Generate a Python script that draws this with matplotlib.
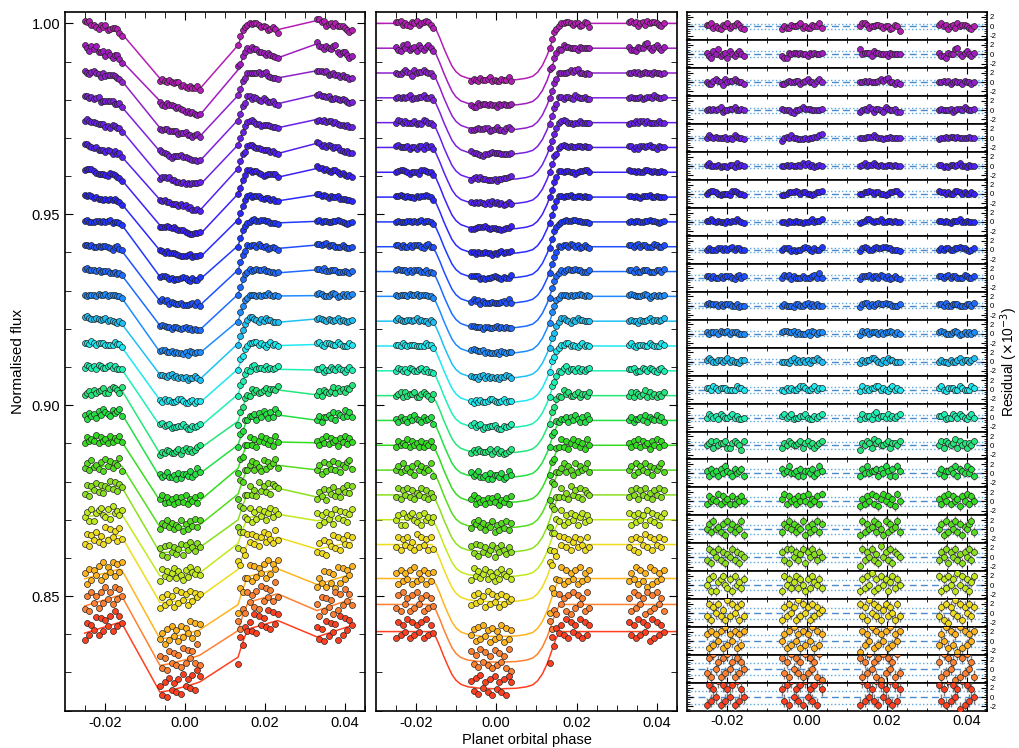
import numpy as np
import matplotlib.pyplot as plt
from matplotlib.ticker import MultipleLocator, FormatStrFormatter

plt.rcParams['font.family'] = ['Liberation Sans', 'DejaVu Sans']

# exposure phases, four HST orbits
orbit_phase = [
    [-0.0250, -0.0244, -0.0238, -0.0233, -0.0227, -0.0221, -0.0215, -0.0209, -0.0204,
     -0.0198, -0.0192, -0.0186, -0.0180, -0.0175, -0.0169, -0.0163, -0.0157],
    [-0.0062, -0.0056, -0.0050, -0.0045, -0.0039, -0.0033, -0.0027, -0.0021, -0.0016,
     -0.0010, -0.0004, 0.0002, 0.0008, 0.0013, 0.0019, 0.0025, 0.0031, 0.0037],
    [0.0133, 0.0139, 0.0145, 0.0150, 0.0156, 0.0162, 0.0168, 0.0174, 0.0179,
     0.0185, 0.0191, 0.0197, 0.0203, 0.0208, 0.0214, 0.0220, 0.0226, 0.0232],
    [0.0330, 0.0336, 0.0342, 0.0347, 0.0353, 0.0359, 0.0365, 0.0371, 0.0376,
     0.0382, 0.0388, 0.0394, 0.0400, 0.0405, 0.0411, 0.0417],
]

# transit model shape (fraction of full depth)
knot_phase = [-0.0300, -0.0160, -0.0150, -0.0140, -0.0130, -0.0120, -0.0110, -0.0100,
              -0.0088, -0.0070, -0.0040, 0.0005, 0.0050, 0.0075, 0.0091, 0.0103,
              0.0115, 0.0127, 0.0138, 0.0148, 0.0156, 0.0162, 0.0460]
knot_frac = [0.0, 0.0, 0.10, 0.26, 0.44, 0.60, 0.75, 0.85,
             0.92, 0.965, 0.99, 1.0, 0.99, 0.965, 0.93, 0.86,
             0.74, 0.56, 0.34, 0.14, 0.03, 0.0, 0.0]

# per spectral channel (top = bluest)
baseline = [1.0000, 0.9935, 0.9870, 0.9805, 0.9740, 0.9675, 0.9610, 0.9545, 0.9480,
            0.9415, 0.9350, 0.9285, 0.9220, 0.9155, 0.9090, 0.9025, 0.8960, 0.8895,
            0.8830, 0.8765, 0.8700, 0.8635, 0.8546, 0.8478, 0.8407]
depth = [0.0149, 0.0150, 0.0149, 0.0148, 0.0149, 0.0148, 0.0149, 0.0148, 0.0147,
         0.0148, 0.0148, 0.0149, 0.0149, 0.0148, 0.0149, 0.0150, 0.0149, 0.0150,
         0.0151, 0.0150, 0.0149, 0.0150, 0.0152, 0.0151, 0.0150]
sigma = [0.55, 0.60, 0.55, 0.55, 0.50, 0.50, 0.55, 0.50, 0.50, 0.55, 0.50, 0.55,
         0.60, 0.65, 0.65, 0.75, 0.85, 0.90, 1.00, 1.00, 1.05, 1.15, 1.25, 1.35, 1.40]

# systematics (x1e-3): ramp across one orbit and mean level of each orbit
ramp = [-2.5, -3.5, -2.0, -2.3, -2.1, -2.6, -2.2, -1.6, -0.5, -0.9, -0.9, 0.0, -1.0,
        -0.4, 0.0, 1.6, 1.3, 0.3, 0.9, 1.7, 1.1, 1.8, 2.7, 3.0, 3.0]
orbit_level = [
    [-1.0, -1.2, -0.4, -0.5], [-1.2, -1.0, -0.8, -0.6], [-0.6, -0.9, -0.3, -0.4],
    [-0.8, -0.8, -0.4, -0.3], [-0.6, -0.6, -0.3, -0.2], [-0.7, -0.6, -0.3, -0.2],
    [-0.5, -0.5, -0.2, -0.1], [-0.6, -0.4, -0.2, -0.2], [-0.1, -0.3, 0.0, -0.1],
    [-0.2, -0.3, 0.0, 0.0], [-0.1, -0.2, 0.1, 0.0], [0.0, -0.1, 0.1, 0.2],
    [0.2, 0.0, 0.2, 0.1], [0.3, 0.0, 0.3, 0.2], [0.8, 0.1, 0.4, 0.2],
    [1.0, 0.2, 0.7, 1.0], [1.5, 0.2, 0.8, 0.7], [1.2, 0.2, 0.7, 0.8],
    [1.0, 0.2, 0.8, 0.5], [1.6, 0.3, 0.9, 0.3], [1.3, 0.3, 0.9, 0.3],
    [1.6, 0.3, 1.0, -0.3], [1.3, 0.3, 1.2, -0.2], [1.1, 0.2, 1.3, -0.1],
    [1.1, 0.2, 1.4, 0.1],
]

# residuals, one digit per exposure: value = (digit - 4) * 0.6 * sigma
residual_codes = [
    "55634325463456532 243354456343354463 466534455434423541 5645245364554324",
    "53264734526435643 322545545443545445 745553655444354444 5332544784356435",
    "43356542645565443 334544553456443564 445454445656744343 4454534544354434",
    "45454563445564454 544432445655544445 345465355436544533 4544453455465445",
    "46545444534365443 245464433343445567 444555654434454444 3445455454444544",
    "56444534435536454 445454454656453454 456455654544554544 5534355456443544",
    "45665434443665443 334555654554434556 445565455443455664 6554544665454454",
    "55654544354556543 443544544344564556 345665455644554544 5545435556445444",
    "45444554545645544 455534344565435446 356544565566554443 4545544556554345",
    "55454454555435645 465635444544456474 355564554654534543 5545645544465445",
    "56555454555445344 454443554456454544 356645456556554445 5546445554445546",
    "54555465564555444 566556454445365455 365645554545565454 5654445653454545",
    "56544554564544355 444356454545355654 354556654354655444 4544354456455456",
    "55465455544446554 435454456654456455 364545566454356454 5643555446544465",
    "46545365445645334 564563445564335456 364553674554645456 5563446546543564",
    "45636455633565426 354654456356453456 254653756445635546 4636545736453546",
    "53645364754364563 645744536355463475 364745563647536375 4635564736547463",
    "36454736453635464 573645364647354637 253647362574635274 5364736452647364",
    "46374536274635472 365746354725364736 273645736427364573 4627364736254673",
    "37264736254736254 637274635726475364 173647352846372654 3647264735264736",
    "46272567436274536 274635736426375463 263748263746257364 7263746284736257",
    "37264735283746273 263746283746273645 736284736257364273 3627164837264736",
    "62736472836472637 462738462736482736 173648273647283647 3648273618273647",
    "37284627384627364 736284736283746281 726384627183746283 6283746182738462",
    "27364827364728364 637284637284637286 283746382746382736 7362837461827364",
]

band_colors = ["#b41eb4", "#a01cc0", "#9020cc", "#7c20dc", "#6a20ea", "#5420f4",
               "#3c20fa", "#2a28ff", "#2038ff", "#1e50ff", "#1e6cff", "#1e8cff",
               "#1ec0f4", "#1ee8f0", "#1ef0b4", "#24e67a", "#24e044", "#34dc20",
               "#56dc1e", "#8ae01e", "#c0ea1e", "#f0dc1e", "#ffb41e", "#ff8030",
               "#ff4020"]

XLIM = (-0.0299, 0.0450)
W, H = 1019, 748
TOP, PH = 12.3, 698.7


def style_axis(ax, ylabels=True):
    ax.set_xlim(*XLIM)
    ax.set_ylim(0.8199, 1.0029)
    ax.xaxis.set_major_locator(MultipleLocator(0.02))
    ax.xaxis.set_minor_locator(MultipleLocator(0.005))
    ax.xaxis.set_major_formatter(FormatStrFormatter('%.2f'))
    ax.yaxis.set_major_locator(MultipleLocator(0.05))
    ax.yaxis.set_minor_locator(MultipleLocator(0.01))
    ax.yaxis.set_major_formatter(FormatStrFormatter('%.2f'))
    ax.tick_params(which='both', direction='in', top=True, right=True, labelsize=10.5)
    ax.tick_params(which='major', length=6)
    ax.tick_params(which='minor', length=4)
    if not ylabels:
        ax.tick_params(labelleft=False)
    for s in ax.spines.values():
        s.set_linewidth(1.2)


fig = plt.figure(figsize=(W / 100, H / 100), dpi=100)
ax_l = fig.add_axes([65 / W, (H - TOP - PH) / H, 300 / W, PH / H])
ax_m = fig.add_axes([376 / W, (H - TOP - PH) / H, 301 / W, PH / H])
style_axis(ax_l)
style_axis(ax_m, ylabels=False)

n_band = len(baseline)
sub_h = PH / n_band
res_axes = []
for k in range(n_band):
    b = (H - TOP - (k + 1) * sub_h) / H
    res_axes.append(fig.add_axes([687 / W, b, 300 / W, sub_h / H]))

phase = np.concatenate([np.array(p) for p in orbit_phase])

for k in range(n_band):
    col = band_colors[k]
    code = residual_codes[k].replace(' ', '')
    if len(code) != len(phase):
        raise ValueError(f"band {k}: {len(code)} residuals for {len(phase)} phases")
    res = (np.array([int(c) for c in code]) - 4) * 0.6 * sigma[k]

    shape = np.interp(phase, knot_phase, knot_frac)
    transit = 1 - depth[k] * shape

    sys = np.ones_like(phase)
    i0 = 0
    for j, p in enumerate(orbit_phase):
        sl = slice(i0, i0 + len(p))
        tmid = 0.5 * (p[0] + p[-1])
        span = p[-1] - p[0]
        sys[sl] = 1 + 1e-3 * (orbit_level[k][j] + ramp[k] * (phase[sl] - tmid) / span)
        i0 += len(p)

    off = baseline[k] - 1
    left_model = off + transit * sys
    ax_l.plot(phase, left_model, color=col, lw=1.1, zorder=2)
    ax_l.plot(phase, left_model + res * 1e-3, 'o', ms=4.3, mfc=col, mec='#222222',
              mew=0.5, zorder=3)

    ax_m.plot(knot_phase, baseline[k] - depth[k] * np.array(knot_frac), color=col,
              lw=1.1, zorder=2)
    ax_m.plot(phase, off + transit + res * 1e-3, 'o', ms=4.3, mfc=col, mec='#222222',
              mew=0.5, zorder=3)

    ax = res_axes[k]
    ax.axhline(0, ls=(0, (5, 3)), color='#4a8ad0', lw=1.0, zorder=1)
    ax.axhline(sigma[k], ls=':', color='#5aa8e0', lw=1.0, zorder=1)
    ax.axhline(-sigma[k], ls=':', color='#5aa8e0', lw=1.0, zorder=1)
    ax.errorbar(phase, res, yerr=sigma[k], fmt='o', ms=4.3, mfc=col,
                mec='#222222', mew=0.5, ecolor='#7a7a7a', elinewidth=1.0,
                capsize=0, zorder=3)
    ax.set_xlim(*XLIM)
    ax.set_ylim(-3.0, 3.0)
    ax.set_yticks([-2, 0, 2])
    ax.set_yticklabels(['-2', '0', '2'])
    ax.yaxis.set_minor_locator(MultipleLocator(0.5))
    ax.xaxis.set_major_locator(MultipleLocator(0.02))
    ax.xaxis.set_minor_locator(MultipleLocator(0.005))
    ax.xaxis.set_major_formatter(FormatStrFormatter('%.2f'))
    ax.tick_params(which='both', direction='in', top=True, right=True,
                   labelleft=False, labelright=True, labelsize=5.6, pad=2)
    ax.tick_params(axis='y', which='major', length=4)
    ax.tick_params(axis='y', which='minor', length=2)
    ax.tick_params(axis='x', which='major', length=4)
    ax.tick_params(axis='x', which='minor', length=2.5)
    ax.tick_params(axis='x', labelsize=10.5)
    if k < n_band - 1:
        ax.tick_params(labelbottom=False)
    for s in ax.spines.values():
        s.set_linewidth(1.2)

ymid = 1 - (TOP + PH / 2) / H
fig.text(18 / W, ymid, 'Normalised flux', rotation=90,
         ha='center', va='center', fontsize=11)
fig.text(527 / W, 1 - 740 / H, 'Planet orbital phase', ha='center', va='center',
         fontsize=10.5)
fig.text(1009 / W, ymid, r'Residual ($\times$10$^{-3}$)',
         rotation=90, ha='center', va='center', fontsize=10)

fig.savefig('out.png', dpi=100)
